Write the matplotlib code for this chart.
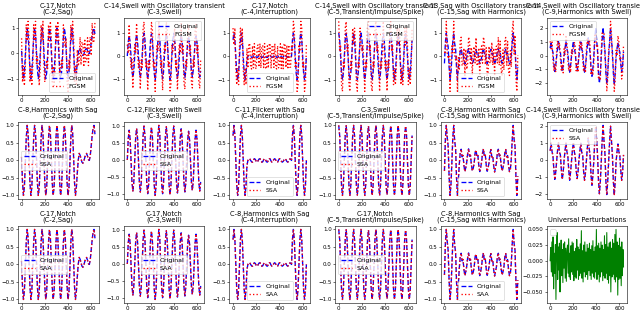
#!/usr/bin/env python3
# coding: utf-8

import numpy as np
import matplotlib
matplotlib.use('Agg')
import matplotlib.pyplot as plt

# sample index of every stored value (one value every 8 samples, 640 samples)
n = np.arange(0, 640, 8)

# original signals, one per column (8 values per cycle)
sig_sag = [
  0.1, -0.63, -1.0, -0.77, -0.1, 0.63, 1.0, 0.77,
  0.1, -0.63, -1.0, -0.77, -0.1, 0.63, 1.0, 0.77,
  0.1, -0.63, -1.0, -0.77, -0.1, 0.63, 1.0, 0.77,
  0.1, -0.63, -1.0, -0.77, -0.1, 0.63, 1.0, 0.77,
  0.1, -0.63, -1.0, -0.77, -0.1, 0.63, 1.0, 0.77,
  0.1, -0.63, -1.0, -0.77, -0.1, 0.63, 1.0, 0.77,
  0.1, -0.63, -1.0, -0.77, -0.1, 0.63, 1.0, 0.77,
  0.1, -0.63, -1.0, -0.77, -0.35, 0.0, 0.2, 0.15,
  0.05, -0.05, -0.08, -0.03, 0.08, 0.17, 0.2, 0.12,
  0.02, 0.0, 0.15, 0.42, 0.7, 0.92, 1.0, 0.75,
]

sig_swell = [
  0.0, 0.62, 0.88, 0.62, 0.0, -0.65, -0.92, -0.65,
  0.0, 0.66, 0.93, 0.66, 0.0, -0.67, -0.95, -0.67,
  0.0, 0.71, 1.0, 0.71, 0.0, -0.71, -1.0, -0.71,
  0.0, 0.69, 0.97, 0.69, 0.0, -0.74, -1.05, -0.74,
  0.0, 0.72, 1.02, 0.72, 0.0, -0.71, -1.0, -0.71,
  0.0, 0.69, 0.98, 0.69, 0.0, -0.73, -1.03, -0.73,
  0.0, 0.71, 1.0, 0.71, 0.0, -0.69, -0.98, -0.69,
  0.0, 0.65, 0.92, 0.65, 0.0, -0.67, -0.95, -0.67,
  0.0, 0.6, 0.85, 0.6, 0.0, -0.64, -0.9, -0.64,
  0.0, 0.62, 0.88, 0.62, 0.0, -0.65, -0.92, -0.65,
]

sig_interruption = [
  0.71, 1.0, 0.71, 0.0, -0.71, -1.0, -0.71, 0.0,
  0.71, 1.0, 0.71, 0.0, -0.71, -1.0, -0.71, -0.15,
  0.0, 0.04, 0.05, 0.0, -0.04, -0.05,
  0.01, 0.05, 0.03, -0.03, -0.05,
  -0.01, 0.04, 0.05, 0.0, -0.05, -0.04,
  0.02, 0.05, 0.02, -0.04, -0.05,
  0.0, 0.05, 0.04, -0.02, -0.05, -0.02,
  0.03, 0.05, 0.01, -0.04, -0.05,
  0.01, 0.05, 0.04, -0.02, -0.05, -0.03,
  0.02, 0.05, 0.02, -0.03, -0.05, -0.01, 0.04, 0.04, 0.0,
  0.71, 1.0, 0.71, 0.0, -0.71, -1.0, -0.71, 0.0,
  0.71, 1.0, 0.71, 0.0, -0.71, -1.0, -0.71, 0.0,
]

sig_transient = [
  1.0, 0.71, 0.0, -0.71, -1.0, -0.71, 0.0, 0.71,
  0.99, 0.71, 0.0, -0.71, -1.0, -0.71, 0.0, 0.71,
  1.0, 0.71, 0.0, -0.71, -0.99, -0.71, 0.0, 0.71,
  1.0, 0.71, 0.0, -0.71, -1.0, -0.71, 0.0, 0.71,
  0.98, 0.71, 0.0, -0.71, -1.0, -0.71, 0.0, 0.71,
  1.0, 0.71, 0.0, -0.71, -1.0, -0.71, 0.0, 0.71,
  1.0, 0.71, 0.0, -0.71, -0.98, -0.71, 0.0, 0.71,
  0.99, 0.71, 0.0, -0.71, -1.0, -0.71, 0.0, 0.71,
  1.0, 0.71, 0.0, -0.71, -1.0, -0.71, 0.0, 0.71,
  0.98, 0.71, 0.0, -0.71, -1.0, -0.71, 0.0, 0.71,
]

sig_sag_harm = [
  -0.3, 0.6, 1.0, 0.65, 0.4, -0.45, -1.0, -0.7,
  -0.05, 0.65, 1.0, 0.55, 0.35, -0.5, -1.0, -0.55,
  -0.1, 0.22, 0.32, 0.1, 0.14, -0.15, -0.32, -0.2,
  -0.05, 0.2, 0.33, 0.12, 0.15, -0.12, -0.3, -0.22,
  -0.08, 0.22, 0.3, 0.1, 0.14, -0.14, -0.32, -0.2,
  -0.05, 0.21, 0.33, 0.11, 0.15, -0.13, -0.31, -0.21,
  -0.07, 0.2, 0.31, 0.1, 0.13, -0.15, -0.33, -0.2,
  -0.06, 0.22, 0.32, 0.12, 0.15, -0.12, -0.3, -0.22,
  -0.08, 0.21, 0.31, 0.1, 0.14, -0.14, -0.32, -0.25,
  0.05, 0.6, 1.0, 0.6, 0.4, -0.5, -1.0, -0.45,
]

sig_harm_swell = [
  0.55, 1.0, 0.5, 0.25, -0.6, -1.15, -0.7, -0.05,
  0.6, 1.02, 0.45, 0.3, -0.55, -1.15, -0.75, 0.0,
  0.55, 1.0, 0.5, 0.25, -0.6, -1.2, -0.7, -0.05,
  0.6, 1.05, 0.5, 0.2, -0.6, -1.1, -0.7, 0.0,
  0.55, 1.0, 0.45, 0.3, -0.65, -1.2, -0.75, -0.05,
  0.7, 1.3, 0.7, 0.2, -0.9, -1.5, -0.9, -0.05,
  1.1, 2.0, 1.2, 0.3, -1.2, -2.0, -1.3, -0.1,
  1.15, 2.05, 1.1, 0.35, -1.25, -2.05, -1.2, -0.05,
  1.1, 2.0, 1.15, 0.3, -1.2, -2.1, -1.3, -0.1,
  0.5, 0.95, 0.5, 0.25, -0.6, -1.2, -0.7, 0.3,
]

originals = [sig_sag, sig_swell, sig_interruption, sig_transient, sig_sag_harm, sig_harm_swell]

# FGSM: +/- eps at every stored sample
fgsm_eps = 0.5
fgsm_sign = ("+-+--+-++-" "+--+-+-++-" "-+-+--++-+" "-++-+--+-+"
             "+-++-+--+-" "-+-+-++-+-" "+--+-++-+-" "-+-++-+--+")

# universal perturbation (one value every 5 samples)
n_uap = np.arange(0, 640, 5)
uap = [
  0.000, 0.021, -0.018, 0.030, -0.025, 0.038, -0.045, 0.012, -0.020, 0.026, -0.062, 0.015, 0.045, -0.030, 0.022, -0.015,
  0.028, -0.050, 0.010, 0.033, -0.024, 0.018, -0.035, 0.027, -0.012, 0.030, -0.028, 0.020, -0.033, 0.016, 0.025, -0.020,
  0.035, -0.026, 0.012, -0.030, 0.024, -0.018, 0.030, -0.022, 0.028, -0.032, 0.015, -0.025, 0.020, -0.028, 0.034, -0.015,
  0.022, -0.030, 0.018, -0.024, 0.027, -0.020, 0.048, -0.028, 0.016, -0.034, 0.025, -0.018, 0.030, -0.026, 0.014, -0.022,
  0.026, -0.030, 0.020, -0.016, 0.028, -0.024, 0.018, -0.030, 0.024, -0.020, 0.032, -0.026, 0.015, -0.028, 0.022, -0.018,
  0.050, -0.030, 0.024, -0.022, 0.028, -0.034, 0.020, -0.026, 0.030, -0.018, 0.025, -0.032, 0.018, -0.024, 0.040, -0.028,
  0.026, -0.020, 0.045, -0.030, 0.022, -0.036, 0.028, -0.024, 0.030, -0.050, 0.020, -0.026, 0.034, -0.022, 0.028, -0.030,
  0.042, -0.034, 0.050, -0.026, 0.030, -0.055, 0.024, -0.030, 0.036, -0.028, 0.022, -0.040, 0.030, -0.024, 0.018, -0.010,
]

attacks = ['FGSM', 'SSA', 'SAA']

true_labels = ['C-2,Sag', 'C-3,Swell', 'C-4,Interruption', 'C-5,Transient/Impulse/Spike',
               'C-15,Sag with Harmonics', 'C-9,Harmonics with Swell']

pred_fgsm = ['C-17,Notch', 'C-14,Swell with Oscillatory transient', 'C-17,Notch',
             'C-14,Swell with Oscillatory transient', 'C-13,Sag with Oscillatory transient',
             'C-14,Swell with Oscillatory transient']
pred_ssa = ['C-8,Harmonics with Sag', 'C-12,Flicker with Swell', 'C-11,Flicker with Sag',
            'C-3,Swell', 'C-8,Harmonics with Sag', 'C-14,Swell with Oscillatory transient']
pred_saa = ['C-17,Notch', 'C-17,Notch', 'C-8,Harmonics with Sag',
            'C-17,Notch', 'C-8,Harmonics with Sag']
preds = [pred_fgsm, pred_ssa, pred_saa]

legend_locs = [
  ['lower right', 'upper right', 'lower center', 'upper right', 'lower center', 'upper left'],
  ['center left', 'center', 'lower center', 'center left', 'lower center', 'upper left'],
  ['center left', 'center', 'lower center', 'center left', 'lower center', 'upper left'],
]


def main():
  fig, axes = plt.subplots(3, 6, figsize=(12.8, 6.26), dpi=50)

  sign = np.array([1.0 if ch == '+' else -1.0 for ch in fgsm_sign])

  for r in range(3):
    for c in range(6):
      ax = axes[r, c]
      ax.tick_params(labelsize=8, length=3, pad=2)

      if r == 2 and c == 5:
        ax.plot(n_uap, uap, color='green', lw=1.5)
        ax.set_title('Universal Perturbations', fontsize=9.5)
        ax.legend(loc='upper left')
        continue

      orig = np.array(originals[c])
      if r == 0:
        adv = orig + fgsm_eps * sign
      else:
        # SSA / SAA changes are far below one pixel here
        adv = orig

      ax.plot(n, orig, 'b--', lw=1.9, label='Original')
      ax.plot(n, adv, 'r:', lw=1.9, label=attacks[r])
      ax.set_title(preds[r][c] + '\n(' + true_labels[c] + ')', fontsize=9.5, linespacing=1.0)
      ax.legend(loc=legend_locs[r][c], fontsize=9, handlelength=1.8)

  fig.subplots_adjust(left=0.028, right=0.98, bottom=0.032, top=0.943, wspace=0.31, hspace=0.35)
  fig.savefig('out.png', dpi=50)


if __name__ == "__main__":
  main()
